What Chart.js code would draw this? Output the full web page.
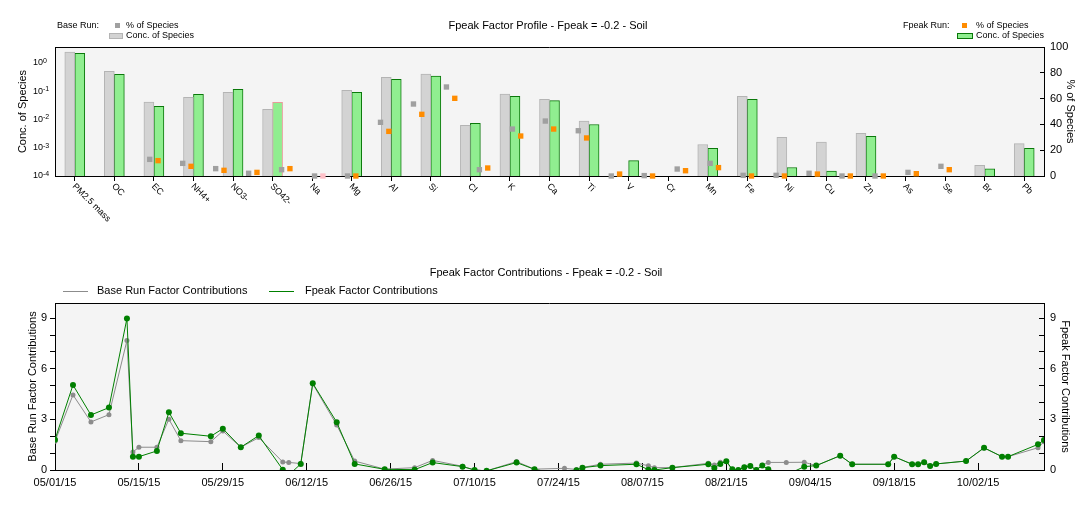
<!DOCTYPE html>
<html>
<head>
<meta charset="utf-8">
<script src="https://cdn.jsdelivr.net/npm/chart.js@4.4.1/dist/chart.umd.min.js"></script>
<style>
  body { margin: 0; background: #fff; font-family: "Liberation Sans", Arial, sans-serif; }
  #wrap { position: relative; width: 1089px; height: 510px; overflow: hidden; }
  canvas { position: absolute; left: 0; }
  .t { position: absolute; white-space: nowrap; color: #000; line-height: 1; }
  .c { transform: translate(-50%, -50%); }
  .sw { position: absolute; box-sizing: border-box; }
</style>
</head>
<body>
<div id="wrap">
  <canvas id="profile" width="1089" height="250" style="top:0"></canvas>
  <canvas id="contrib" width="1089" height="260" style="top:250px"></canvas>

  <!-- profile title + legend -->
  <div class="t c" style="left:548px; top:25px; font-size:11px">Fpeak Factor Profile - Fpeak = -0.2 - Soil</div>
  <div class="t" style="left:57px; top:21px; font-size:9px">Base Run:</div>
  <div class="sw" style="left:115px; top:23px; width:5px; height:5px; background:#a0a0a0"></div>
  <div class="t" style="left:126px; top:21px; font-size:9px">% of Species</div>
  <div class="sw" style="left:109px; top:33px; width:14px; height:6px; background:#d3d3d3; border:1px solid #b4b4b4"></div>
  <div class="t" style="left:126px; top:31px; font-size:9px">Conc. of Species</div>

  <div class="t" style="left:903px; top:21px; font-size:9px">Fpeak Run:</div>
  <div class="sw" style="left:962px; top:23px; width:5px; height:5px; background:#ff8c00"></div>
  <div class="t" style="left:976px; top:21px; font-size:9px">% of Species</div>
  <div class="sw" style="left:957px; top:33px; width:16px; height:6px; background:#90ee90; border:1px solid #0a780a"></div>
  <div class="t" style="left:976px; top:31px; font-size:9px">Conc. of Species</div>

  <!-- contributions title + legend -->
  <div class="t c" style="left:546px; top:272px; font-size:11px">Fpeak Factor Contributions - Fpeak = -0.2 - Soil</div>
  <div class="sw" style="left:63px; top:291px; width:25px; height:1px; background:#8c8c8c"></div>
  <div class="t" style="left:97px; top:285px; font-size:11px">Base Run Factor Contributions</div>
  <div class="sw" style="left:269px; top:291px; width:25px; height:1px; background:#008000"></div>
  <div class="t" style="left:305px; top:285px; font-size:11px">Fpeak Factor Contributions</div>
</div>

<script>
// ---- factor profile (top) ----
const species = ['PM2.5 mass', 'OC', 'EC', 'NH4+', 'NO3-', 'SO42-', 'Na', 'Mg', 'Al', 'Si', 'Cl', 'K', 'Ca',
  'Ti', 'V', 'Cr', 'Mn', 'Fe', 'Ni', 'Cu', 'Zn', 'As', 'Se', 'Br', 'Pb'];
const baseConc = [2.39, 0.50, 0.041, 0.060, 0.090, 0.0225, null, 0.106, 0.305, 0.40, 0.0062, 0.078, 0.051,
  0.0087, null, null, 0.0013, 0.065, 0.0023, 0.00158, 0.0032, null, null, 0.00024, 0.0014];
const fpeakConc = [2.15, 0.39, 0.029, 0.076, 0.115, 0.040, null, 0.090, 0.259, 0.34, 0.0072, 0.065, 0.046,
  0.0066, 0.00035, null, 0.00095, 0.051, 0.0002, 0.00015, 0.0025, null, null, 0.00018, 0.00095];
const basePct = [12.9, 9.8, 5.7, 2.1, 4.9, 0, 0, 41.6, 55.8, 69.0, 4.9, 36.4, 42.6,
  35.1, 0, 0.3, 5.4, 9.8, 0.5, 0.5, 2.1, 0, 0, 2.8, 7.5];
const fpeakPct = [11.9, 7.5, 4.4, 2.8, 5.7, 0, 0, 34.6, 47.8, 60.2, 6.2, 31.0, 36.4,
  29.5, 1.5, 0, 4.1, 6.5, 0, 0, 1.5, 0, 0, 1.8, 4.9];
const constrained = ['SO42-'];
const concTicks = [1e-4, 1e-3, 1e-2, 1e-1, 1];
const pctTicks = [0, 20, 40, 60, 80, 100];

// ---- factor contributions (bottom) ----
const sampleDates = ['05/01/15', '05/04/15', '05/07/15', '05/10/15', '05/13/15', '05/14/15', '05/15/15',
  '05/18/15', '05/20/15', '05/22/15', '05/27/15', '05/29/15', '06/01/15', '06/04/15', '06/08/15', '06/09/15',
  '06/11/15', '06/13/15', '06/17/15', '06/20/15', '06/25/15', '06/30/15', '07/03/15', '07/08/15', '07/10/15',
  '07/12/15', '07/17/15', '07/20/15', '07/25/15', '07/27/15', '07/28/15', '07/31/15', '08/06/15', '08/08/15',
  '08/09/15', '08/12/15', '08/18/15', '08/19/15', '08/20/15', '08/21/15', '08/22/15', '08/23/15', '08/24/15',
  '08/25/15', '08/26/15', '08/27/15', '08/28/15', '08/31/15', '09/03/15', '09/05/15', '09/09/15', '09/11/15',
  '09/17/15', '09/18/15', '09/21/15', '09/22/15', '09/23/15', '09/24/15', '09/25/15', '09/30/15', '10/03/15',
  '10/06/15', '10/07/15', '10/12/15', '10/13/15'];
const baseContrib = [1.70, 4.45, 2.85, 3.28, 7.67, 1.07, 1.35, 1.35, 3.01, 1.74, 1.68, 2.31, 1.35, 1.92, 0.47,
  0.45, 0.38, 5.10, 2.67, 0.53, 0.05, 0.14, 0.57, 0.22, 0.0, -0.05, 0.50, 0.05, 0.10, 0.03, 0.15, 0.34, 0.41,
  0.25, 0.14, 0.14, 0.40, 0.30, 0.46, 0.50, 0.0, 0.0, 0.16, 0.24, 0.02, 0.28, 0.45, 0.45, 0.46, 0.26, 0.85,
  0.34, 0.34, 0.79, 0.34, 0.34, 0.46, 0.24, 0.36, 0.53, 1.30, 0.79, 0.79, 1.32, 1.68];
const fpeakContrib = [1.80, 5.04, 3.26, 3.70, 8.98, 0.79, 0.79, 1.13, 3.42, 2.18, 2.00, 2.45, 1.35, 2.04, 0.02,
  -0.30, 0.36, 5.14, 2.83, 0.36, 0.04, 0.02, 0.44, 0.20, 0.0, -0.05, 0.44, 0.04, -0.30, -0.02, 0.14, 0.26, 0.34,
  0.02, 0.0, 0.14, 0.34, 0.12, 0.36, 0.52, 0.04, 0.0, 0.16, 0.24, 0.0, 0.27, 0.04, -0.30, 0.20, 0.26, 0.85,
  0.34, 0.34, 0.79, 0.34, 0.34, 0.46, 0.24, 0.36, 0.53, 1.32, 0.79, 0.79, 1.52, 1.78];
const contribMax = 9.9;

Chart.defaults.font.family = '"Liberation Sans", Arial, sans-serif';
Chart.defaults.font.size = 11;
Chart.defaults.color = '#000';

const FONT = '"Liberation Sans", Arial, sans-serif';
const BAR_W = 10;

// days since the first sample, parsed from MM/DD/YY
const day0 = Date.UTC( 2015, 4, 1 );
function toDay( s ) {
	const [ m, d, y ] = s.split( '/' ).map( Number );
	return Math.round( ( Date.UTC( 2000 + y, m - 1, d ) - day0 ) / 86400000 );
}
function dayLabel( v ) {
	const dt = new Date( day0 + v * 86400000 );
	const p = ( n ) => String( n ).padStart( 2, '0' );
	return p( dt.getUTCMonth() + 1 ) + '/' + p( dt.getUTCDate() ) + '/' + p( dt.getUTCFullYear() % 100 );
}

// grey plot background and a black line along the top of the plot area
const plotFrame = {
	id: 'plotFrame',
	beforeDraw( chart ) {
		const { ctx, chartArea: a } = chart;
		ctx.save();
		ctx.fillStyle = '#f4f4f4';
		ctx.fillRect( a.left, a.top, a.right - a.left, a.bottom - a.top );
		ctx.restore();
	},
	afterDraw( chart ) {
		const { ctx, chartArea: a } = chart;
		ctx.save();
		ctx.strokeStyle = '#000';
		ctx.lineWidth = 1;
		ctx.beginPath();
		ctx.moveTo( a.left, a.top + 0.5 );
		ctx.lineTo( a.right, a.top + 0.5 );
		ctx.stroke();
		ctx.restore();
	},
};

// species names slanting down to the right from each tick
const slantLabels = {
	id: 'slantLabels',
	afterDraw( chart ) {
		const scale = chart.scales.x;
		const ctx = chart.ctx;
		ctx.save();
		ctx.font = '9px ' + FONT;
		ctx.fillStyle = '#000';
		ctx.textAlign = 'left';
		ctx.textBaseline = 'middle';
		scale.getLabels().forEach( ( s, i ) => {
			ctx.save();
			ctx.translate( scale.getPixelForValue( i ) - 1, chart.chartArea.bottom + 9 );
			ctx.rotate( Math.PI / 4 );
			ctx.fillText( s, 0, 0 );
			ctx.restore();
		} );
		ctx.restore();
	},
};

// 10 with a raised exponent, left aligned, for the log axis
const powerLabels = {
	id: 'powerLabels',
	afterDraw( chart ) {
		const scale = chart.scales.y;
		const ctx = chart.ctx;
		const x0 = 33;
		ctx.save();
		ctx.fillStyle = '#000';
		ctx.textAlign = 'left';
		concTicks.forEach( ( v ) => {
			const y = scale.getPixelForValue( v );
			ctx.font = '9px ' + FONT;
			ctx.textBaseline = 'middle';
			ctx.fillText( '10', x0, y );
			const w = ctx.measureText( '10' ).width;
			ctx.font = '7px ' + FONT;
			ctx.textBaseline = 'alphabetic';
			ctx.fillText( String( Math.round( Math.log10( v ) ) ), x0 + w, y );
		} );
		ctx.restore();
	},
};

const greenBorder = species.map( ( s ) => ( constrained.includes( s ) ? '#e89a9a' : '#0a780a' ) );
const orangeFill = species.map( ( s ) => ( constrained.includes( s ) ? '#ffc0c8' : '#ff8c00' ) );

const squareStyle = {
	type: 'line',
	xAxisID: 'xp',
	yAxisID: 'y2',
	showLine: false,
	pointStyle: 'rect',
	pointRadius: 3.8,
	pointBorderWidth: 0,
	clip: false,
};

// each run shares one slot ("stack") for its bar and its squares
const profileChart = new Chart( document.getElementById( 'profile' ), {
	type: 'bar',
	data: {
		labels: species,
		datasets: [
			{ ...squareStyle, label: 'Base % of Species', data: [], stack: 'base', pointBackgroundColor: '#a0a0a0', order: 0 },
			{ ...squareStyle, label: 'Fpeak % of Species', data: [], stack: 'fpeak', pointBackgroundColor: orangeFill, order: 1 },
			{
				label: 'Base Conc. of Species',
				data: baseConc,
				stack: 'base',
				backgroundColor: '#d3d3d3',
				borderColor: '#b4b4b4',
				borderWidth: 1,
				barThickness: BAR_W,
				order: 2,
			},
			{
				label: 'Fpeak Conc. of Species',
				data: fpeakConc,
				stack: 'fpeak',
				backgroundColor: '#90ee90',
				borderColor: greenBorder,
				borderWidth: 1,
				barThickness: BAR_W,
				order: 3,
			},
		],
	},
	options: {
		responsive: false,
		animation: false,
		devicePixelRatio: 1,
		layout: { padding: { top: 47, left: 0, right: 0, bottom: 0 } },
		plugins: { legend: { display: false }, tooltip: { enabled: false } },
		scales: {
			x: {
				type: 'category',
				offset: true,
				ticks: { display: false },
				grid: { drawOnChartArea: false, offset: false, tickLength: 5, color: '#000' },
				border: { color: '#000' },
				afterFit: ( s ) => { s.height = 74; },
			},
			xp: { type: 'linear', display: false, min: -0.5, max: species.length - 0.5 },
			y: {
				type: 'logarithmic',
				position: 'left',
				min: 1e-4,
				max: 3.6,
				stacked: false,
				afterBuildTicks: ( s ) => { s.ticks = concTicks.map( ( v ) => ( { value: v } ) ); },
				ticks: { display: false },
				grid: { drawOnChartArea: false, drawTicks: false },
				border: { color: '#000' },
				title: { display: true, text: 'Conc. of Species', font: { size: 11 }, padding: { top: 16.4, bottom: 0 } },
				afterFit: ( s ) => { s.width = 55; },
			},
			y2: {
				type: 'linear',
				position: 'right',
				min: 0,
				max: 100,
				stacked: false,
				ticks: {
					stepSize: 10,
					callback: ( v ) => ( pctTicks.includes( v ) ? String( v ) : '' ),
					padding: 10,
				},
				grid: { drawOnChartArea: false, tickLength: -4, color: '#000' },
				border: { color: '#000' },
				title: { display: true, text: '% of Species', font: { size: 11 }, padding: { top: 12.4, bottom: 0 } },
				afterFit: ( s ) => { s.width = 45; },
			},
		},
	},
	plugins: [ plotFrame, slantLabels, powerLabels ],
} );

// put the % squares on the middle of their bars: half a bar width either side of the tick
{
	const xs = profileChart.scales.x;
	const step = xs.getPixelForValue( 1 ) - xs.getPixelForValue( 0 );
	const off = BAR_W / 2 / step;
	profileChart.data.datasets[ 0 ].data = basePct.map( ( v, i ) => ( { x: i - off, y: v } ) );
	profileChart.data.datasets[ 1 ].data = fpeakPct.map( ( v, i ) => ( { x: i + off, y: v } ) );
	profileChart.update();
}

const days = sampleDates.map( toDay );

new Chart( document.getElementById( 'contrib' ), {
	type: 'line',
	data: {
		datasets: [
			{
				label: 'Fpeak Factor Contributions',
				data: fpeakContrib.map( ( v, i ) => ( { x: days[ i ], y: v } ) ),
				borderColor: '#008000',
				backgroundColor: '#008000',
				borderWidth: 1,
				pointRadius: 3,
				pointBorderWidth: 0,
				tension: 0,
				order: 0,
			},
			{
				label: 'Base Run Factor Contributions',
				data: baseContrib.map( ( v, i ) => ( { x: days[ i ], y: v } ) ),
				borderColor: '#8c8c8c',
				backgroundColor: '#8c8c8c',
				borderWidth: 1,
				pointRadius: 2.5,
				pointBorderWidth: 0,
				tension: 0,
				order: 1,
			},
		],
	},
	options: {
		responsive: false,
		animation: false,
		devicePixelRatio: 1,
		layout: { padding: { top: 53, left: 0, right: 0, bottom: 0 } },
		plugins: { legend: { display: false }, tooltip: { enabled: false } },
		scales: {
			x: {
				type: 'linear',
				min: days[ 0 ],
				max: days[ days.length - 1 ],
				ticks: { stepSize: 14, includeBounds: false, autoSkip: false, maxRotation: 0, callback: dayLabel, padding: 13, font: { size: 11 } },
				grid: { drawOnChartArea: false, tickLength: -7, color: '#000' },
				border: { color: '#000' },
				afterFit: ( s ) => { s.height = 40; },
			},
			y: {
				position: 'left',
				min: 0,
				max: contribMax,
				ticks: { stepSize: 1, includeBounds: false, callback: ( v ) => ( v % 3 === 0 ? String( v ) : '' ), padding: 3 },
				grid: { drawOnChartArea: false, tickLength: 5, color: '#000' },
				border: { color: '#000' },
				title: { display: true, text: 'Base Run Factor Contributions', font: { size: 11 }, padding: { top: 26.4, bottom: 0 } },
				afterFit: ( s ) => { s.width = 55; },
			},
			y2: {
				position: 'right',
				min: 0,
				max: contribMax,
				ticks: { stepSize: 1, includeBounds: false, callback: ( v ) => ( v % 3 === 0 ? String( v ) : '' ), padding: 11 },
				grid: { drawOnChartArea: false, tickLength: -5, color: '#000' },
				border: { color: '#000' },
				title: { display: true, text: 'Fpeak Factor Contributions', font: { size: 11 }, padding: { top: 17.4, bottom: 0 } },
				afterFit: ( s ) => { s.width = 45; },
			},
		},
	},
	plugins: [ plotFrame ],
} );
</script>
</body>
</html>
